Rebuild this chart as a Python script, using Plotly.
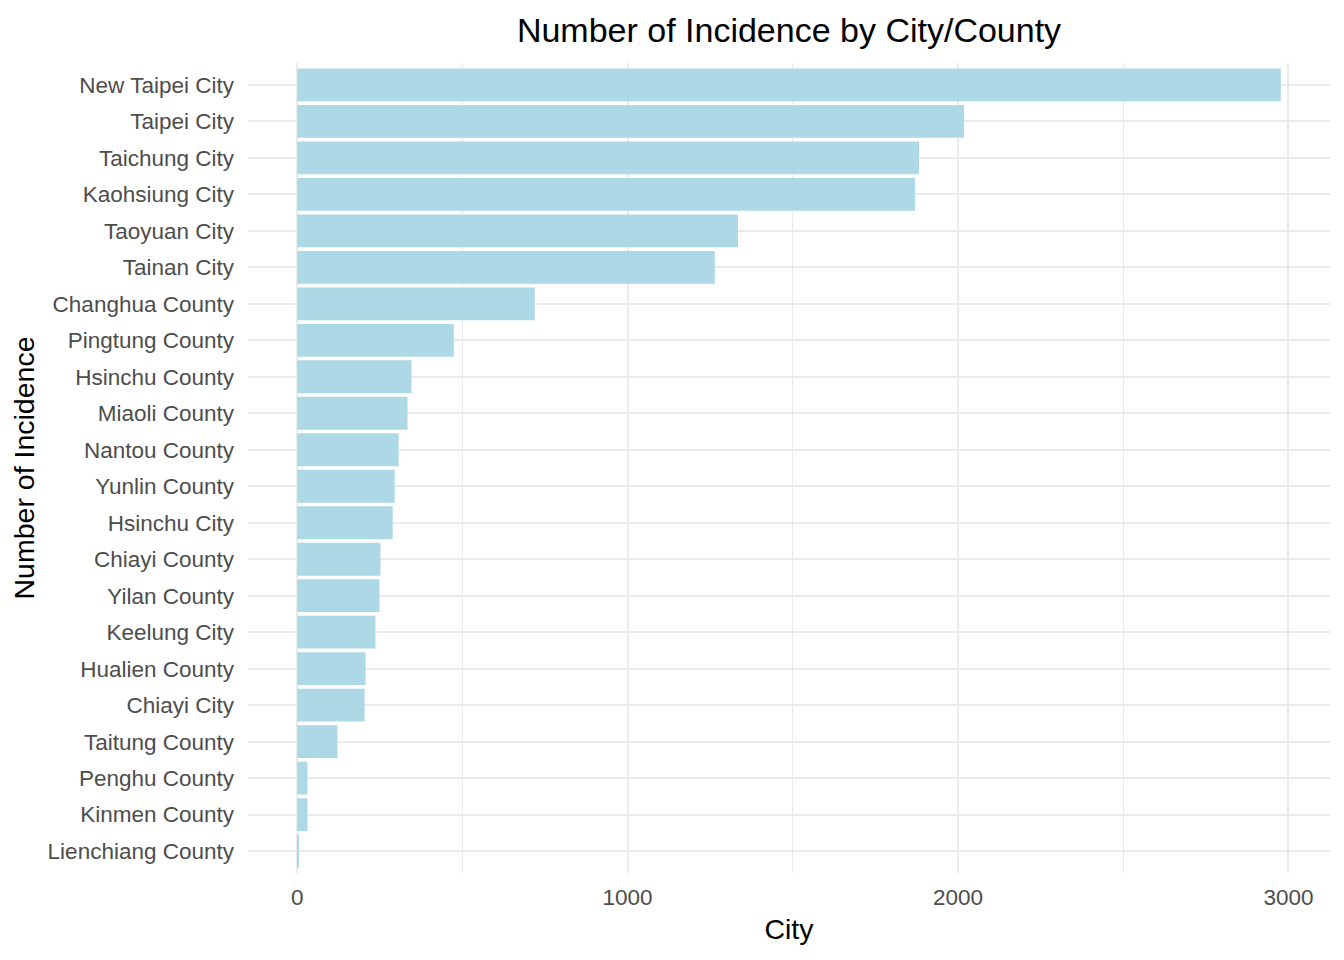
import plotly.graph_objects as go

cities = ["New Taipei City", "Taipei City", "Taichung City", "Kaohsiung City",
          "Taoyuan City", "Tainan City", "Changhua County", "Pingtung County",
          "Hsinchu County", "Miaoli County", "Nantou County", "Yunlin County",
          "Hsinchu City", "Chiayi County", "Yilan County", "Keelung City",
          "Hualien County", "Chiayi City", "Taitung County", "Penghu County",
          "Kinmen County", "Lienchiang County"]
incidence = [2977, 2018, 1882, 1870, 1334, 1264, 719, 474, 346, 334, 307, 295,
             289, 252, 249, 237, 207, 204, 122, 31, 31, 4]

x_ticks = [0, 1000, 2000, 3000]

FONT = "Arial, Liberation Sans, sans-serif"

fig = go.Figure(go.Bar(
    x=incidence, y=cities, orientation="h",
    marker=dict(color="#ADD8E6", line=dict(width=0)),
))

xmax = max(incidence)
fig.update_layout(
    width=1344, height=960,
    margin=dict(l=240, r=22, t=55, b=95),
    paper_bgcolor="white", plot_bgcolor="white",
    bargap=0.1,
    showlegend=False,
    font=dict(family=FONT, color="#4D4D4D", size=22.5),
    title=dict(text="Number of Incidence by City/County", x=0.5, xref="paper",
               xanchor="center", y=0.977, yanchor="middle", yref="container",
               font=dict(size=34, color="black", family=FONT)),
)
fig.update_xaxes(
    range=[-0.05 * xmax, 1.05 * xmax],
    tickvals=x_ticks, ticktext=[str(v) for v in x_ticks],
    showgrid=True, gridcolor="#EBEBEB", gridwidth=2,
    minor=dict(dtick=500, tick0=0, showgrid=True, gridcolor="#EBEBEB", gridwidth=1),
    zeroline=False, showline=False, ticks="",
    ticklabelstandoff=8,
    tickfont=dict(size=22.5, color="#4D4D4D", family=FONT),
    title=dict(text="City", font=dict(size=28.5, color="black", family=FONT), standoff=10),
)
fig.update_yaxes(
    categoryorder="array", categoryarray=cities[::-1],
    range=[-0.6, len(cities) - 0.4],
    showgrid=True, gridcolor="#EBEBEB", gridwidth=2,
    zeroline=False, showline=False, ticks="",
    ticklabelstandoff=13,
    tickfont=dict(size=22.5, color="#4D4D4D", family=FONT),
    title=dict(text="Number of Incidence", font=dict(size=28.5, color="black", family=FONT), standoff=8),
)

fig.write_html("out.html")
